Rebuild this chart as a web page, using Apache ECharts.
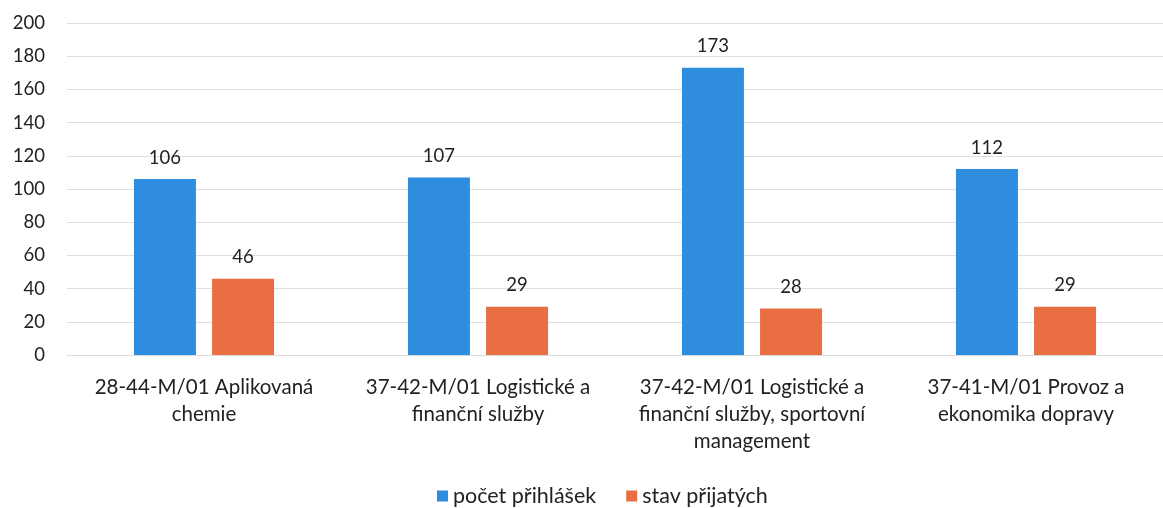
<!DOCTYPE html>
<html>
<head>
<meta charset="utf-8">
<script src="https://cdn.jsdelivr.net/npm/echarts@6/dist/echarts.min.js"></script>
<style>html,body{margin:0;padding:0;background:#fff}#c{width:1163px;height:508px}</style>
</head>
<body>
<div id="c"></div>
<script>
var categories = [
  "28-44-M/01 Aplikovaná\nchemie",
  "37-42-M/01 Logistické a\nfinanční služby",
  "37-42-M/01 Logistické a\nfinanční služby, sportovní\nmanagement",
  "37-41-M/01 Provoz a\nekonomika dopravy"
];
var seriesNames = ["počet přihlášek", "stav přijatých"];
var applications = [106, 107, 173, 112];
var admitted = [46, 29, 28, 29];
var yTicks = {min: 0, max: 200, interval: 20};

var font = "Lato, 'Liberation Sans', sans-serif";
var chart = echarts.init(document.getElementById('c'), null, {renderer: 'canvas'});
chart.setOption({
  animation: false,
  textStyle: {fontFamily: font},
  grid: {left: 67, top: 23, width: 1108, height: 332, containLabel: false},
  legend: {
    data: seriesNames,
    left: 437, top: 485, padding: 0,
    itemWidth: 11, itemHeight: 11, itemGap: 30,
    icon: 'rect',
    textStyle: {fontSize: 21.5, color: '#222', fontFamily: font, padding: [0, 0, 0, 0]}
  },
  xAxis: {
    type: 'category',
    data: categories,
    axisLine: {show: true, lineStyle: {color: '#d9d9d9'}},
    axisTick: {show: false},
    axisLabel: {fontSize: 20.5, color: '#222', lineHeight: 27, margin: 19, interval: 0, fontFamily: font}
  },
  yAxis: {
    type: 'value',
    min: yTicks.min, max: yTicks.max, interval: yTicks.interval,
    axisLine: {show: false},
    axisTick: {show: false},
    splitLine: {lineStyle: {color: '#e0e0e0'}},
    axisLabel: {fontSize: 18.5, color: '#222', margin: 22, fontFamily: font}
  },
  series: [
    {
      name: seriesNames[0], type: 'bar', data: applications,
      barWidth: 62, barGap: '26%',
      itemStyle: {color: '#2f8de0'},
      label: {show: true, position: 'top', distance: 12, fontSize: 18.5, color: '#222', fontFamily: font}
    },
    {
      name: seriesNames[1], type: 'bar', data: admitted,
      barWidth: 62, barGap: '26%',
      itemStyle: {color: '#e96e42'},
      label: {show: true, position: 'top', distance: 12, fontSize: 18.5, color: '#222', fontFamily: font}
    }
  ]
});
</script>
</body>
</html>
